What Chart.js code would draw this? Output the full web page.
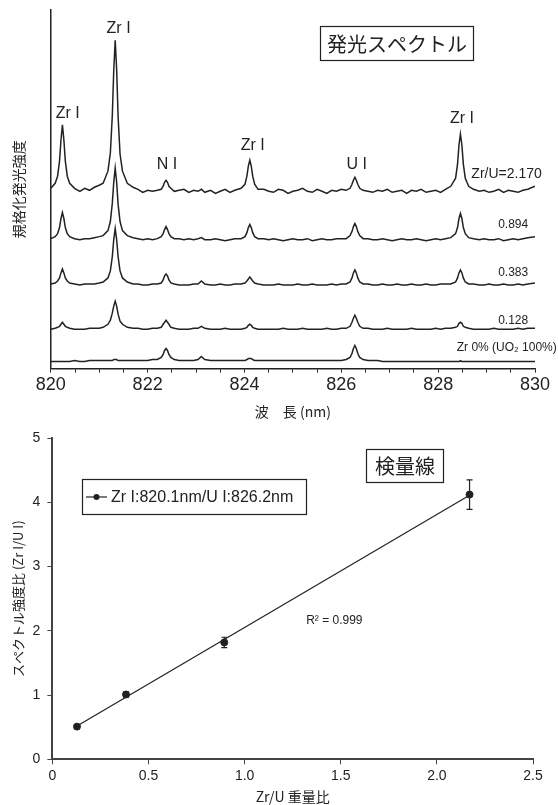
<!DOCTYPE html>
<html lang="ja">
<head>
<meta charset="utf-8">
<script src="https://cdn.jsdelivr.net/npm/chart.js@4.4.1/dist/chart.umd.min.js"></script>
<style>
  html, body { margin: 0; padding: 0; background: #fff; }
  #wrap { position: relative; width: 558px; height: 805px; }
  #spec { position: absolute; left: 0; top: 0; }
  #calib { position: absolute; left: 0; top: 420px; }
</style>
</head>
<body>
<div id="wrap">
  <canvas id="spec" width="558" height="420"></canvas>
  <canvas id="calib" width="558" height="385"></canvas>
</div>
<script>
// ---- emission spectra (wavelength in nm, intensity in arbitrary units above each trace's baseline)
const wavelength = [
  820.00, 820.09, 820.14, 820.18, 820.21, 820.24, 820.27, 820.30, 820.34, 820.39, 820.49,
  820.60, 820.70, 820.80, 820.90, 821.00,
  821.08, 821.18, 821.23, 821.27, 821.30, 821.33, 821.36, 821.39, 821.43, 821.48, 821.58, 821.70, 821.80,
  821.90, 822.00, 822.10,
  822.20, 822.28, 822.32, 822.35, 822.38, 822.41, 822.44, 822.48, 822.55, 822.65,
  822.75, 822.85, 822.95,
  823.04, 823.11, 823.18,
  823.30, 823.40, 823.50, 823.60, 823.70, 823.80,
  823.93, 824.01, 824.05, 824.08, 824.11, 824.14, 824.17, 824.21, 824.28, 824.40,
  824.50, 824.60, 824.70, 824.80, 824.90, 825.00, 825.10, 825.20, 825.30, 825.40, 825.50, 825.60, 825.70, 825.80, 825.90, 826.00,
  826.10, 826.18, 826.22, 826.25, 826.28, 826.31, 826.34, 826.38, 826.45, 826.55,
  826.65, 826.75, 826.85, 826.95, 827.05, 827.15, 827.25, 827.35, 827.45, 827.55, 827.65, 827.75, 827.85, 827.95, 828.05, 828.15,
  828.26, 828.36, 828.40, 828.43, 828.46, 828.49, 828.52, 828.56, 828.63, 828.73,
  828.85, 828.95, 829.05, 829.15, 829.25, 829.35, 829.45, 829.55, 829.65, 829.75, 829.85, 830.00
];

const specZrU2170 = [
  3, 8, 15, 30, 51, 66, 51, 30, 15, 8, 3,
  0, 3, 1, 4, 6,
  8, 20, 38, 75, 120, 150, 121, 74, 37, 20, 8, 4, 2,
  -1, 1, 0,
  1, 2, 5, 9, 11, 9, 5, 3, 0, 1,
  2, -1, 1,
  0, 2, -1,
  1, -2, 0, 2, -1, 1,
  3, 7, 15, 25, 31, 25, 15, 7, 2, 2,
  0, -1, 2, 1, -2, 0, 1, 3, 0, -1, 2, 0, -2, 1, 0, 2,
  1, 3, 7, 11, 14, 11, 7, 3, 1, 0,
  -1, 1, 0, 2, -1, 0, 1, -2, 1, 0, 2, -1, 0, 1, -1, 2,
  5, 13, 27, 46, 57, 46, 27, 13, 5, 2,
  0, 1, -1, 0, 2, -1, 1, 0, -1, 1, 2, 5
];
const specZrU0894 = [
  1, 3, 6, 12, 21, 27, 21, 12, 6, 3, 1,
  0, 1, 1, 2, 3,
  4, 9, 18, 36, 57, 71, 57, 35, 18, 9, 4, 2, 1,
  0, 1, 0,
  1, 3, 6, 10, 13, 10, 6, 3, 1, 1,
  0, 1, 0,
  1, 2, 0,
  0, 1, 0, -1, 0, 1,
  1, 3, 7, 12, 15, 12, 7, 3, 1, 1,
  0, 1, 0, -1, 0, 1, 0, 0, 1, -1, 0, 1, 0, 0, 1, 1,
  1, 4, 8, 13, 16, 13, 8, 4, 1, 1,
  0, 0, 1, 0, -1, 0, 1, 0, 0, 1, 0, -1, 0, 1, 0, 1,
  2, 6, 12, 21, 26, 21, 12, 6, 2, 1,
  0, 1, 0, 0, 1, -1, 0, 1, 0, 1, 2, 3
];
const specZrU0383 = [
  1, 2, 4, 7, 12, 16, 12, 7, 4, 2, 1,
  0, 1, 1, 1, 2,
  3, 7, 14, 28, 45, 56, 45, 28, 14, 7, 3, 1, 1,
  0, 0, 1,
  1, 2, 5, 9, 11, 9, 5, 2, 1, 0,
  0, 0, 1,
  1, 4, 1,
  0, 0, 1, 0, 0, 1,
  1, 2, 4, 6, 8, 6, 4, 2, 1, 0,
  0, 0, 1, 0, 0, 0, 1, 0, 0, 1, 0, 0, 0, 1, 0, 1,
  1, 3, 7, 12, 15, 12, 7, 3, 1, 1,
  0, 0, 1, 0, 0, 1, 0, 0, 1, 0, 0, 1, 0, 0, 1, 1,
  1, 3, 7, 12, 15, 12, 7, 3, 1, 1,
  0, 0, 1, 0, 0, 1, 0, 0, 1, 0, 1, 2
];
const specZrU0128 = [
  0, 1, 2, 3, 5, 7, 5, 3, 2, 1, 0,
  0, 0, 1, 1, 1,
  2, 5, 9, 16, 23, 28, 23, 15, 8, 5, 2, 1, 1,
  0, 0, 1,
  1, 2, 5, 7, 9, 7, 5, 2, 1, 0,
  0, 0, 1,
  1, 3, 1,
  0, 0, 0, 1, 0, 0,
  0, 1, 2, 4, 5, 4, 2, 1, 0, 0,
  0, 0, 0, 1, 0, 0, 0, 1, 0, 0, 0, 0, 1, 0, 0, 1,
  1, 3, 7, 11, 14, 11, 7, 3, 1, 1,
  0, 0, 0, 1, 0, 0, 0, 0, 1, 0, 0, 0, 0, 1, 0, 1,
  1, 2, 3, 6, 7, 6, 3, 2, 1, 0,
  0, 0, 0, 1, 0, 0, 0, 0, 1, 0, 1, 1
];
const specZr0 = [
  0, 0, 0, 0, 0, 0, 0, 0, 0, 0, 1,
  0, 0, 1, 1, 1,
  1, 1, 1, 1, 2, 2, 2, 1, 1, 1, 1, 1, 1,
  1, 1, 2,
  2, 4, 7, 11, 13, 11, 7, 4, 2, 1,
  1, 1, 1,
  2, 5, 2,
  1, 1, 1, 1, 1, 1,
  1, 1, 2, 3, 3, 3, 2, 1, 1, 1,
  1, 1, 1, 1, 1, 1, 1, 1, 1, 1, 1, 1, 1, 1, 1, 1,
  2, 4, 8, 13, 16, 13, 8, 4, 2, 1,
  1, 1, 0, 0, 0, 0, 0, 0, 0, 0, 0, 0, 0, 0, 0, 0,
  0, 0, 0, 0, 1, 0, 0, 0, 0, 0,
  0, 0, 0, 0, 0, 0, 0, 0, 0, 0, 0, 0
];

const traceOffsets = [176, 128, 83, 39, 7];
const traceLabels = ['Zr/U=2.170', '0.894', '0.383', '0.128', 'Zr 0% (UO\u2082 100%)'];
const traceLabelX = [830.14, 829.86, 829.86, 829.86, 830.45];
const traceLabelRise = [17, 15, 12, 9, 14];

const peakNames = ['Zr I', 'Zr I', 'N I', 'Zr I', 'U I', 'Zr I'];
const peakLabelX = [820.35, 821.40, 822.40, 824.17, 826.32, 828.49];
const peakLabelY = [253, 338, 203, 221, 203, 248];

// ---- calibration curve
const zrURatio = [0.128, 0.383, 0.894, 2.170];
const intensityRatio = [0.51, 1.01, 1.82, 4.12];
const intensityErr = [0.03, 0.04, 0.08, 0.23];
const fitX = [0.128, 2.170];
const fitY = [0.52, 4.11];

const LATIN = '"Liberation Sans", Arial, sans-serif';
const JP = '"Noto Sans CJK JP", "Liberation Sans", sans-serif';
const INK = '#222';

// Spectra chart
const traces = [specZrU2170, specZrU0894, specZrU0383, specZrU0128, specZr0];
const specDatasets = traces.map((trace, i) => ({
  label: traceLabels[i],
  data: wavelength.map((w, j) => ({ x: w, y: trace[j] + traceOffsets[i] })),
  borderColor: '#222',
  borderWidth: 1.5,
  pointRadius: 0,
  tension: 0,
  fill: false
}));

const spectrumNotes = {
  id: 'spectrumNotes',
  afterDraw(chart) {
    const { ctx, scales: { x, y } } = chart;
    ctx.save();
    ctx.fillStyle = INK;
    ctx.strokeStyle = INK;
    ctx.textBaseline = 'middle';

    // peak labels
    ctx.font = '16px ' + LATIN;
    ctx.textAlign = 'center';
    peakNames.forEach((name, i) => {
      ctx.fillText(name, x.getPixelForValue(peakLabelX[i]), y.getPixelForValue(peakLabelY[i]));
    });

    // trace labels
    ctx.textAlign = 'right';
    traceLabels.forEach((name, i) => {
      ctx.font = (i === 0 ? '14px ' : '12px ') + LATIN;
      ctx.fillText(name, x.getPixelForValue(traceLabelX[i]),
        y.getPixelForValue(traceOffsets[i] + traceLabelRise[i]));
    });

    // title box
    ctx.lineWidth = 1.2;
    ctx.strokeRect(320.5, 26.5, 153, 34);
    ctx.font = '20px ' + JP;
    ctx.textAlign = 'center';
    ctx.fillText('発光スペクトル', 397, 44);
    ctx.restore();
  }
};

new Chart(document.getElementById('spec'), {
  type: 'line',
  data: { datasets: specDatasets },
  options: {
    responsive: false,
    animation: false,
    events: [],
    layout: { padding: { left: 4, right: 23, top: 10, bottom: 0 } },
    plugins: { legend: { display: false }, tooltip: { enabled: false } },
    scales: {
      x: {
        type: 'linear',
        min: 820,
        max: 830,
        border: { display: true, color: INK, width: 1.5 },
        grid: { display: true, drawOnChartArea: false, drawTicks: true, tickLength: 4, color: INK },
        ticks: {
          stepSize: 0.5,
          autoSkip: false,
          maxRotation: 0,
          padding: 2,
          color: INK,
          font: { size: 18, family: LATIN },
          callback: v => (v % 2 === 0 ? String(v) : '')
        },
        title: {
          display: true,
          text: '波　長 (nm)',
          color: INK,
          font: { size: 14, family: JP },
          padding: { top: 5, bottom: 0 }
        }
      },
      y: {
        min: 0,
        max: 356,
        border: { display: true, color: INK, width: 1.5 },
        grid: { display: false },
        ticks: { display: false },
        title: {
          display: true,
          text: '規格化発光強度',
          color: INK,
          font: { size: 14, family: JP },
          padding: { top: 6, bottom: 16 }
        }
      }
    }
  },
  plugins: [spectrumNotes]
});

// Calibration chart
const calibNotes = {
  id: 'calibNotes',
  afterDatasetsDraw(chart) {
    const { ctx, scales: { x, y } } = chart;
    ctx.save();
    ctx.strokeStyle = INK;
    ctx.lineWidth = 1.2;
    zrURatio.forEach((v, i) => {
      const px = x.getPixelForValue(v);
      const top = y.getPixelForValue(intensityRatio[i] + intensityErr[i]);
      const bot = y.getPixelForValue(intensityRatio[i] - intensityErr[i]);
      ctx.beginPath();
      ctx.moveTo(px, top); ctx.lineTo(px, bot);
      ctx.moveTo(px - 3, top); ctx.lineTo(px + 3, top);
      ctx.moveTo(px - 3, bot); ctx.lineTo(px + 3, bot);
      ctx.stroke();
    });
    ctx.restore();
  },
  afterDraw(chart) {
    const { ctx, scales: { x, y } } = chart;
    ctx.save();
    ctx.strokeStyle = INK;
    ctx.fillStyle = INK;
    ctx.textBaseline = 'middle';

    // legend box
    ctx.lineWidth = 1.2;
    ctx.strokeRect(82.5, 59.5, 224, 35);
    ctx.beginPath();
    ctx.moveTo(86, 77); ctx.lineTo(107, 77);
    ctx.stroke();
    ctx.beginPath();
    ctx.arc(96.5, 77, 3, 0, Math.PI * 2);
    ctx.fill();
    ctx.font = '16px ' + LATIN;
    ctx.textAlign = 'left';
    ctx.fillText('Zr I:820.1nm/U I:826.2nm', 111, 77.5);

    // title box
    ctx.strokeRect(366.5, 29.5, 77, 33);
    ctx.font = '20px ' + JP;
    ctx.textAlign = 'center';
    ctx.fillText('検量線', 405, 46);

    // R squared
    ctx.font = '12px ' + LATIN;
    ctx.textAlign = 'left';
    ctx.fillText('R\u00b2 = 0.999', x.getPixelForValue(1.32), y.getPixelForValue(2.16));
    ctx.restore();
  }
};

new Chart(document.getElementById('calib'), {
  type: 'scatter',
  data: {
    datasets: [
      {
        label: 'fit',
        data: fitX.map((v, i) => ({ x: v, y: fitY[i] })),
        showLine: true,
        borderColor: INK,
        borderWidth: 1.2,
        pointRadius: 0
      },
      {
        label: 'Zr I:820.1nm/U I:826.2nm',
        data: zrURatio.map((v, i) => ({ x: v, y: intensityRatio[i] })),
        pointRadius: 3.5,
        pointBackgroundColor: INK,
        pointBorderColor: INK
      }
    ]
  },
  options: {
    responsive: false,
    animation: false,
    events: [],
    layout: { padding: { left: 4, right: 25, top: 18, bottom: 0 } },
    plugins: { legend: { display: false }, tooltip: { enabled: false } },
    scales: {
      x: {
        type: 'linear',
        min: 0,
        max: 2.5,
        border: { display: true, color: '#444', width: 2 },
        grid: { display: true, drawOnChartArea: false, drawTicks: true, tickLength: 5, color: '#444' },
        ticks: { stepSize: 0.5, padding: 3, color: INK, font: { size: 14, family: LATIN } },
        title: {
          display: true,
          text: 'Zr/U 重量比',
          color: INK,
          font: { size: 14, family: JP },
          padding: { top: 1, bottom: 0 }
        }
      },
      y: {
        min: 0,
        max: 5,
        border: { display: true, color: '#444', width: 2 },
        grid: { display: true, drawOnChartArea: false, drawTicks: true, tickLength: 5, color: '#444' },
        ticks: { stepSize: 1, padding: 7, color: INK, font: { size: 14, family: LATIN } },
        title: {
          display: true,
          text: 'スペクトル強度比 (Zr I/U I)',
          color: INK,
          font: { size: 13, family: JP },
          padding: { top: 6, bottom: 0 }
        }
      }
    }
  },
  plugins: [calibNotes]
});
</script>
</body>
</html>
